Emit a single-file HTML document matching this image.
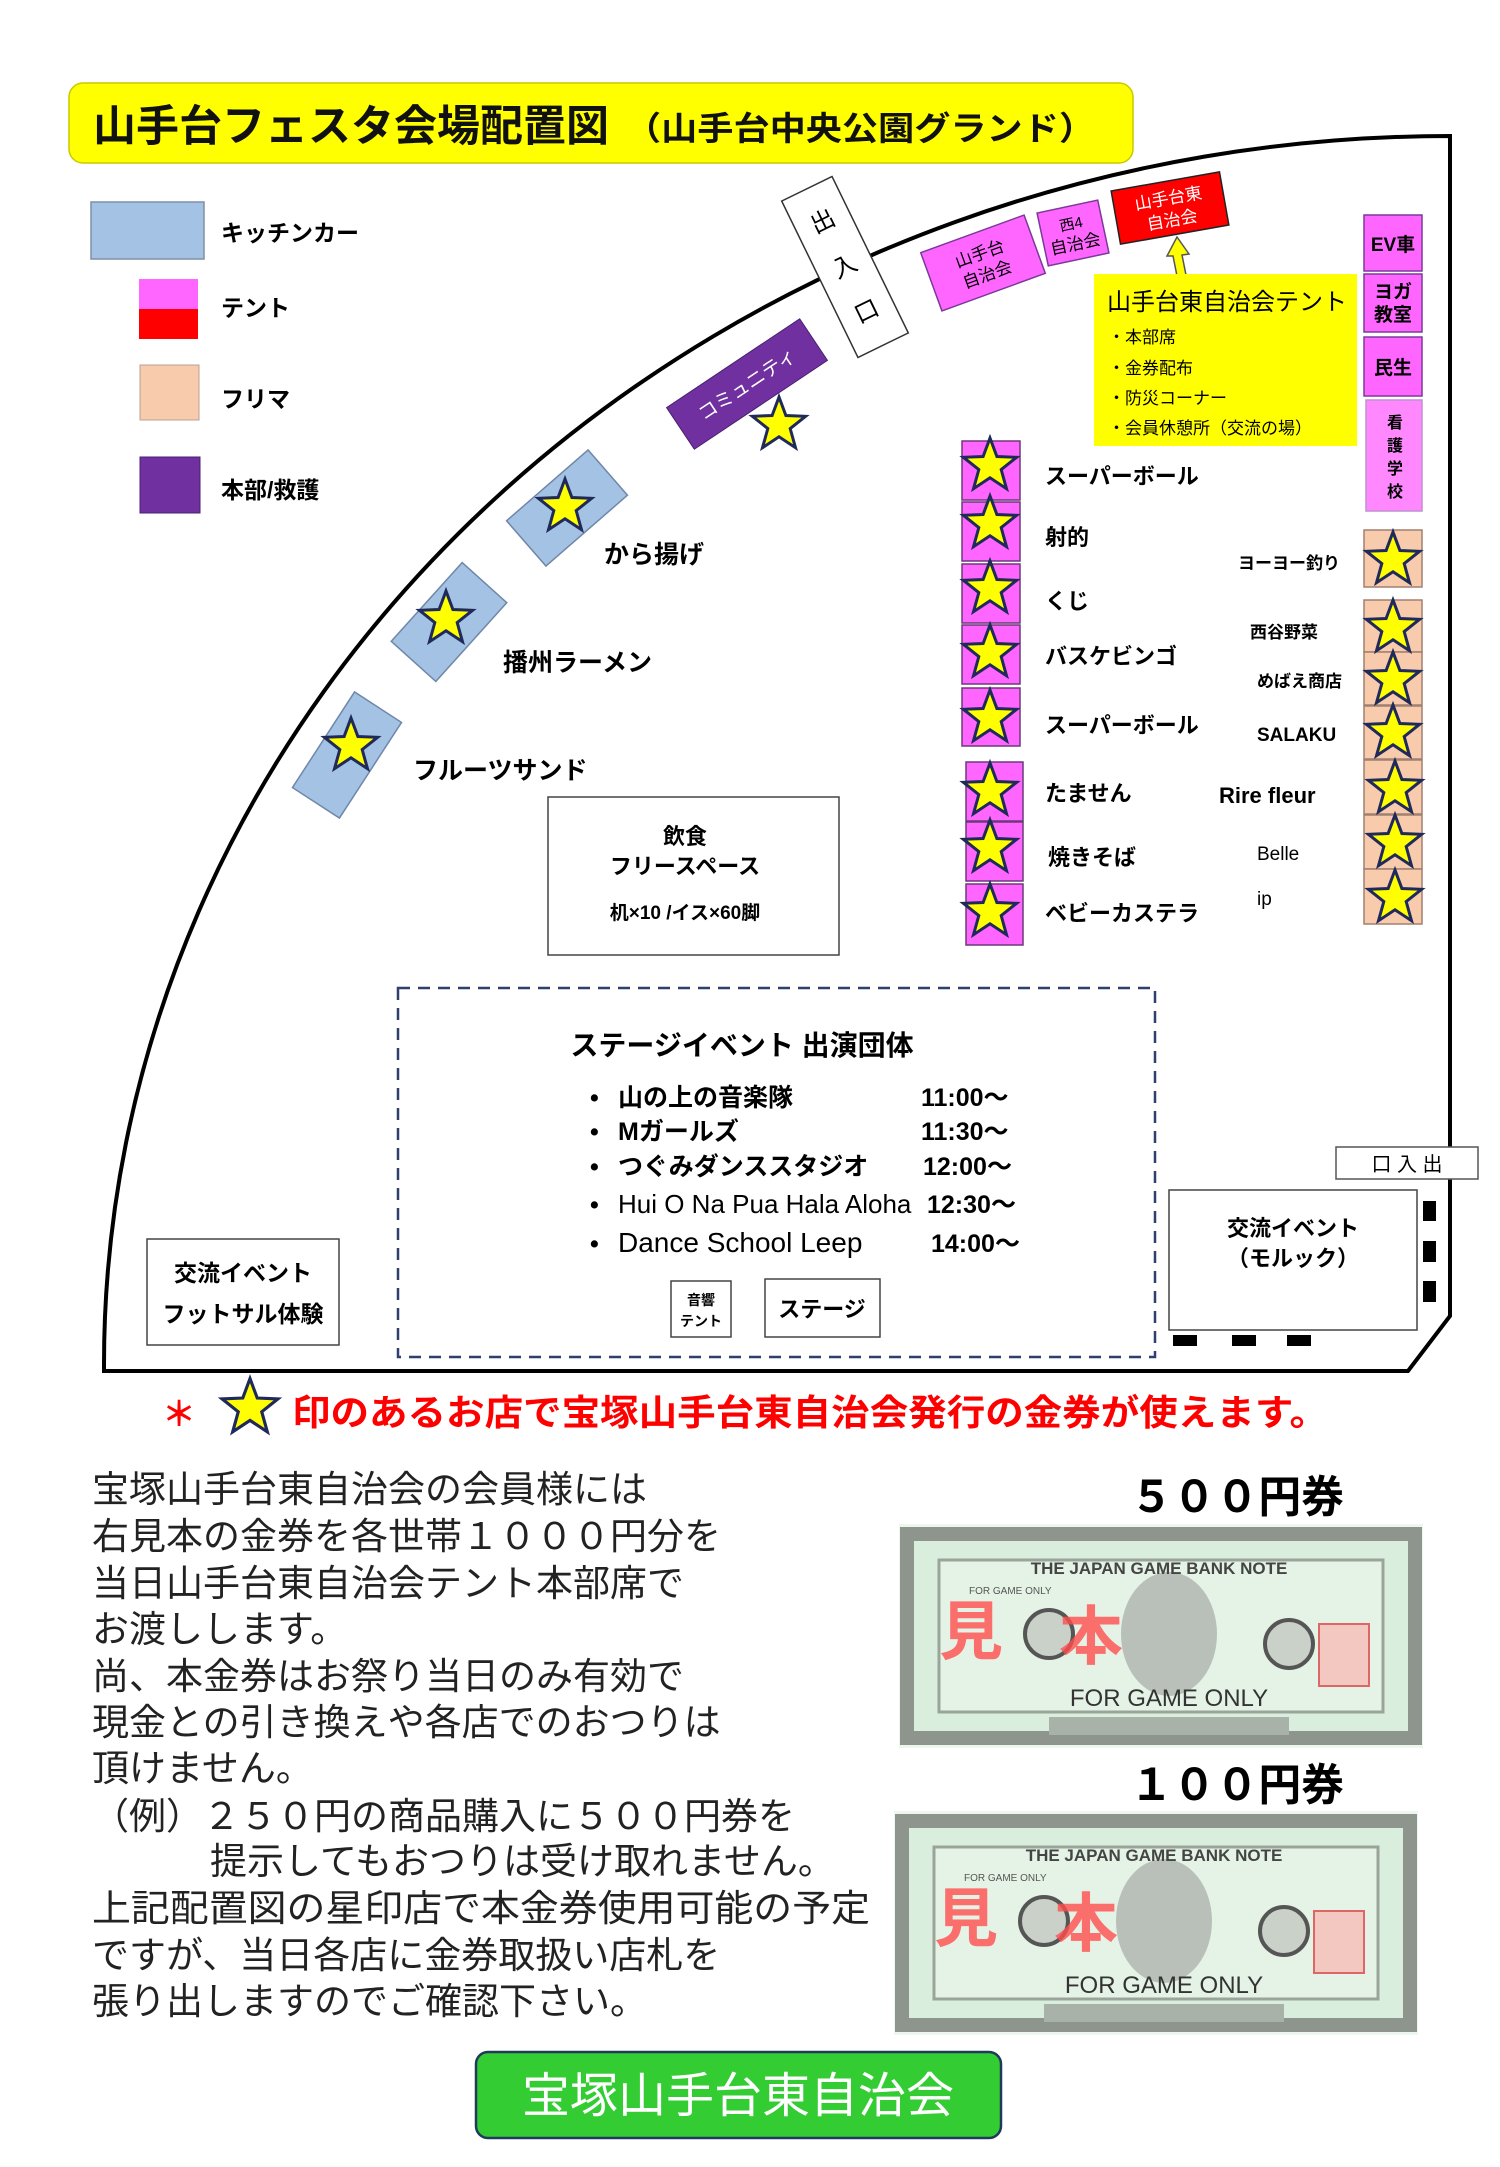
<!DOCTYPE html>
<html><head><meta charset="utf-8"><style>
html,body{margin:0;padding:0;background:#fff}
svg{display:block}
text{font-family:"Liberation Sans","Noto Sans CJK JP",sans-serif}
.b{font-weight:bold}
</style></head><body>
<svg width="1500" height="2167" viewBox="0 0 1500 2167" xmlns="http://www.w3.org/2000/svg">
<defs>
<polygon id="st" points="0,-28 6.9,-9.5 26.6,-8.7 11.2,3.6 16.5,22.7 0,11.8 -16.5,22.7 -11.2,3.6 -26.6,-8.7 -6.9,-9.5" fill="#ffff00" stroke="#1f2a5a" stroke-width="3" stroke-linejoin="miter"/>
<g id="note">
<rect x="0" y="0" width="524" height="224" fill="#eef7ef"/>
<rect x="8" y="10" width="508" height="204" fill="#d9eedd" stroke="#8d958d" stroke-width="14"/>
<rect x="40" y="36" width="444" height="152" fill="#e4f3e6" stroke="#9aa49a" stroke-width="3"/>
<ellipse cx="270" cy="110" rx="48" ry="62" fill="#b9c0b9"/>
<circle cx="150" cy="110" r="24" fill="#c9d1c9" stroke="#555" stroke-width="4"/>
<circle cx="390" cy="120" r="24" fill="#c9d1c9" stroke="#555" stroke-width="4"/>
<text x="260" y="50" font-family="Liberation Serif,serif" font-weight="bold" font-size="17" fill="#444" text-anchor="middle">THE JAPAN GAME BANK NOTE</text>
<text x="70" y="70" font-size="10" fill="#555">FOR  GAME  ONLY</text>
<text x="270" y="182" font-size="24" fill="#333" text-anchor="middle" font-family="Liberation Sans Narrow,Liberation Sans,sans-serif">FOR GAME ONLY</text>
<rect x="150" y="193" width="240" height="18" fill="#a9b2a9"/>
<text x="40" y="130" class="b" font-size="64" fill="#ff4d4d" fill-opacity="0.8">見</text>
<text x="160" y="135" class="b" font-size="64" fill="#ff4d4d" fill-opacity="0.8">本</text>
<rect x="420" y="100" width="50" height="62" fill="#f2c8c0" stroke="#d66" stroke-width="2"/>
</g>
</defs>

<rect x="69" y="83" width="1064" height="80" rx="14" fill="#ffff00" stroke="#c9c900" stroke-width="1.5"/>
<text x="93" y="141" font-size="43" font-weight="bold" fill="#111">山手台フェスタ会場配置図</text>
<text x="625" y="140" font-size="33" font-weight="bold" fill="#111" textLength="470" lengthAdjust="spacingAndGlyphs">（山手台中央公園グランド）</text>

<path d="M104,1364 A1346 1228 0 0 1 1450 136 L1450 1316 L1408 1371 L104 1371 Z" fill="none" stroke="#000" stroke-width="4"/>

<rect x="91" y="202" width="113" height="57" fill="#a4c2e4" stroke="#7f8fa6" stroke-width="1.5"/>
<text x="221" y="241" font-size="23" font-weight="bold">キッチンカー</text>
<rect x="139" y="279" width="59" height="30" fill="#ff66ff"/>
<rect x="139" y="309" width="59" height="30" fill="#ff0000"/>
<text x="221" y="316" font-size="23" font-weight="bold">テント</text>
<rect x="140" y="365" width="59" height="55" fill="#f8cbad" stroke="#b9a090" stroke-width="1"/>
<text x="221" y="407" font-size="23" font-weight="bold">フリマ</text>
<rect x="140" y="457" width="60" height="56" fill="#7030a0" stroke="#4b2070" stroke-width="1"/>
<text x="221" y="498" font-size="23" font-weight="bold">本部/救護</text>

<g transform="translate(845,267) rotate(64)">
<rect x="-87" y="-28" width="174" height="56" fill="#fff" stroke="#333" stroke-width="1.5"/>
<text transform="translate(-50,0) rotate(-90)" font-size="24" text-anchor="middle" dominant-baseline="central">出</text>
<text transform="translate(0,0) rotate(-90)" font-size="24" text-anchor="middle" dominant-baseline="central">入</text>
<text transform="translate(50,0) rotate(-90)" font-size="24" text-anchor="middle" dominant-baseline="central">口</text>
</g>

<g transform="translate(983,263) rotate(-20)">
<rect x="-55" y="-31" width="110" height="62" fill="#ff66ff" stroke="#7a3a9a" stroke-width="1.5"/>
<text y="-4" font-size="17" text-anchor="middle">山手台</text><text y="18" font-size="17" text-anchor="middle">自治会</text>
</g>
<g transform="translate(1073,233) rotate(-12)">
<rect x="-31" y="-27" width="62" height="54" fill="#ff66ff" stroke="#7a3a9a" stroke-width="1.5"/>
<text y="-4" font-size="15" text-anchor="middle">西4</text><text y="17" font-size="17" text-anchor="middle">自治会</text>
</g>
<g transform="translate(1170,208) rotate(-10)">
<rect x="-55" y="-27" width="110" height="54" fill="#ff0000" stroke="#222" stroke-width="1.5"/>
<text y="-4" font-size="17" fill="#fff" text-anchor="middle">山手台東</text><text y="18" font-size="17" fill="#fff" text-anchor="middle">自治会</text>
</g>
<polygon points="1177,237 1167,256 1173,256 1177,276 1186,275 1182,255 1189,254" fill="#ffff00" stroke="#555" stroke-width="1.5"/>

<rect x="1094" y="274" width="263" height="172" fill="#ffff00"/>
<text x="1107" y="310" font-size="24">山手台東自治会テント</text>
<text x="1108" y="343" font-size="17">・本部席</text>
<text x="1108" y="374" font-size="17">・金券配布</text>
<text x="1108" y="404" font-size="17">・防災コーナー</text>
<text x="1108" y="434" font-size="17">・会員休憩所（交流の場）</text>

<g font-weight="bold" font-size="19" text-anchor="middle">
<rect x="1364" y="215" width="58" height="56" fill="#ff66ff" stroke="#7a3a9a" stroke-width="1.5"/>
<text x="1393" y="251">EV車</text>
<rect x="1364" y="274" width="58" height="58" fill="#ff66ff" stroke="#7a3a9a" stroke-width="1.5"/>
<text x="1393" y="298">ヨガ</text><text x="1393" y="321">教室</text>
<rect x="1364" y="337" width="58" height="59" fill="#ff66ff" stroke="#7a3a9a" stroke-width="1.5"/>
<text x="1393" y="374">民生</text>
<rect x="1366" y="400" width="56" height="111" fill="#ff88ff" stroke="#c090d0" stroke-width="1.5"/>
<text x="1395" y="428" font-size="16">看</text><text x="1395" y="451" font-size="16">護</text><text x="1395" y="474" font-size="16">学</text><text x="1395" y="497" font-size="16">校</text>
</g>
<g fill="#f8cbad" stroke="#a08070" stroke-width="1.5">
<rect x="1364" y="530" width="58" height="57"/>
<rect x="1364" y="600" width="58" height="52"/>
<rect x="1364" y="652" width="58" height="53"/>
<rect x="1364" y="706" width="58" height="53"/>
<rect x="1364" y="760" width="58" height="54"/>
<rect x="1364" y="815" width="58" height="54"/>
<rect x="1364" y="869" width="58" height="55"/>
</g>
<use href="#st" x="1393" y="560"/>
<use href="#st" x="1393" y="628"/>
<use href="#st" x="1393" y="680"/>
<use href="#st" x="1393" y="733"/>
<use href="#st" x="1395" y="789"/>
<use href="#st" x="1395" y="843"/>
<use href="#st" x="1395" y="898"/>

<g fill="#ff66ff" stroke="#6b3a7a" stroke-width="1.5">
<rect x="962" y="441" width="58" height="59"/>
<rect x="962" y="502" width="58" height="59"/>
<rect x="962" y="564" width="58" height="59"/>
<rect x="962" y="625" width="58" height="59"/>
<rect x="962" y="688" width="58" height="58"/>
<rect x="966" y="762" width="57" height="59"/>
<rect x="966" y="822" width="57" height="59"/>
<rect x="966" y="884" width="57" height="61"/>
</g>
<use href="#st" x="990" y="466"/>
<use href="#st" x="990" y="524"/>
<use href="#st" x="990" y="589"/>
<use href="#st" x="990" y="653"/>
<use href="#st" x="990" y="718"/>
<use href="#st" x="990" y="791"/>
<use href="#st" x="990" y="848"/>
<use href="#st" x="990" y="912"/>

<g font-weight="bold" font-size="22">
<text x="1045" y="484">スーパーボール</text>
<text x="1045" y="545">射的</text>
<text x="1045" y="609">くじ</text>
<text x="1045" y="664">バスケビンゴ</text>
<text x="1045" y="733">スーパーボール</text>
<text x="1045" y="801">たません</text>
<text x="1048" y="865">焼きそば</text>
<text x="1045" y="921">ベビーカステラ</text>
</g>
<g font-weight="bold" font-size="17">
<text x="1238" y="569">ヨーヨー釣り</text>
<text x="1250" y="638">西谷野菜</text>
<text x="1257" y="687">めばえ商店</text>
<text x="1257" y="741" font-size="19">SALAKU</text>
<text x="1219" y="803" font-size="22" font-family="Liberation Mono,monospace">Rire fleur</text>
<text x="1257" y="860" font-size="19" font-weight="normal">Belle</text>
<text x="1257" y="905" font-size="19" font-weight="normal">ip</text>
</g>

<g fill="#a4c2e4" stroke="#6f87a8" stroke-width="1.5">
<rect x="-54" y="-30" width="108" height="60" transform="translate(567,508) rotate(-41)"/>
<rect x="-53" y="-30" width="106" height="60" transform="translate(449,622) rotate(-48)"/>
<rect x="-57" y="-28" width="114" height="56" transform="translate(347,755) rotate(-57)"/>
</g>
<use href="#st" x="565" y="507"/>
<use href="#st" x="446" y="619"/>
<use href="#st" x="351" y="746"/>
<g font-weight="bold" font-size="25">
<text x="604" y="563">から揚げ</text>
<text x="503" y="671">播州ラーメン</text>
<text x="413" y="779">フルーツサンド</text>
</g>
<g transform="translate(747,384) rotate(-33.7)">
<rect x="-80" y="-25" width="160" height="50" fill="#7030a0" stroke="#4b2070" stroke-width="1"/>
<text y="7" font-size="19" fill="#fff" text-anchor="middle">コミュニティ</text>
</g>
<use href="#st" x="779" y="425"/>

<rect x="548" y="797" width="291" height="158" fill="#fff" stroke="#444" stroke-width="1.5"/>
<g font-weight="bold" text-anchor="middle">
<text x="685" y="844" font-size="22">飲食</text>
<text x="685" y="874" font-size="22">フリースペース</text>
<text x="685" y="919" font-size="19">机×10 /イス×60脚</text>
</g>

<rect x="398" y="988" width="757" height="369" fill="none" stroke="#2f3f6f" stroke-width="2.5" stroke-dasharray="12,8"/>
<text x="742" y="1055" font-size="28" font-weight="bold" text-anchor="middle">ステージイベント 出演団体</text>
<g font-size="25" font-weight="bold">
<text x="590" y="1106">•</text><text x="618" y="1106">山の上の音楽隊</text><text x="921" y="1106">11:00～</text>
<text x="590" y="1140">•</text><text x="618" y="1140">Mガールズ</text><text x="921" y="1140">11:30～</text>
<text x="590" y="1175">•</text><text x="618" y="1175">つぐみダンススタジオ</text><text x="923" y="1175">12:00～</text>
<text x="590" y="1213">•</text><text x="618" y="1213" font-weight="normal" font-size="26" textLength="655" lengthAdjust="spacingAndGlyphs" style="display:none"></text><text x="618" y="1213" font-weight="normal" font-size="26" textLength="655" lengthAdjust="spacingAndGlyphs"></text><text x="618" y="1213" font-weight="normal" font-size="26" textLength="656" lengthAdjust="spacingAndGlyphs"></text><text x="618" y="1213" font-weight="normal" font-size="26">Hui O Na Pua Hala Aloha</text><text x="927" y="1213">12:30～</text>
<text x="590" y="1252">•</text><text x="618" y="1252" font-weight="normal" font-size="28">Dance School Leep</text><text x="931" y="1252">14:00～</text>
</g>
<rect x="671" y="1281" width="60" height="56" fill="#fff" stroke="#444" stroke-width="1.5"/>
<text x="701" y="1305" font-size="14" font-weight="bold" text-anchor="middle">音響</text>
<text x="701" y="1326" font-size="14" font-weight="bold" text-anchor="middle">テント</text>
<rect x="765" y="1279" width="115" height="58" fill="#fff" stroke="#444" stroke-width="1.5"/>
<text x="822" y="1317" font-size="22" font-weight="bold" text-anchor="middle">ステージ</text>

<rect x="147" y="1239" width="192" height="106" fill="#fff" stroke="#444" stroke-width="1.5"/>
<text x="243" y="1281" font-size="23" font-weight="bold" text-anchor="middle">交流イベント</text>
<text x="243" y="1322" font-size="23" font-weight="bold" text-anchor="middle">フットサル体験</text>

<rect x="1336" y="1147" width="142" height="32" fill="#fff" stroke="#555" stroke-width="1.5"/>
<text x="1407" y="1171" font-size="20" text-anchor="middle">口 入 出</text>
<rect x="1169" y="1190" width="248" height="140" fill="#fff" stroke="#444" stroke-width="1.5"/>
<text x="1293" y="1236" font-size="22" font-weight="bold" text-anchor="middle">交流イベント</text>
<text x="1293" y="1266" font-size="22" font-weight="bold" text-anchor="middle">（モルック）</text>
<g fill="#000">
<rect x="1423" y="1201" width="13" height="20"/>
<rect x="1423" y="1241" width="13" height="21"/>
<rect x="1423" y="1281" width="13" height="21"/>
<rect x="1173" y="1335" width="24" height="11"/>
<rect x="1232" y="1335" width="24" height="11"/>
<rect x="1287" y="1335" width="24" height="11"/>
</g>

<text x="162" y="1426" font-size="34" font-weight="bold" fill="#ff0000">＊</text>
<use href="#st" transform="translate(250,1408) scale(1.05)"/>
<text x="292" y="1425" font-size="36" font-weight="bold" fill="#ff0000" textLength="1036" lengthAdjust="spacingAndGlyphs">印のあるお店で宝塚山手台東自治会発行の金券が使えます。</text>

<g font-size="37" fill="#222">
<text x="92" y="1502">宝塚山手台東自治会の会員様には</text>
<text x="92" y="1549">右見本の金券を各世帯１０００円分を</text>
<text x="92" y="1596">当日山手台東自治会テント本部席で</text>
<text x="92" y="1642">お渡しします。</text>
<text x="92" y="1689">尚、本金券はお祭り当日のみ有効で</text>
<text x="92" y="1735">現金との引き換えや各店でのおつりは</text>
<text x="92" y="1781">頂けません。</text>
<text x="92" y="1829">（例）２５０円の商品購入に５００円券を</text>
<text x="210" y="1874">提示してもおつりは受け取れません。</text>
<text x="92" y="1921" textLength="778" lengthAdjust="spacingAndGlyphs">上記配置図の星印店で本金券使用可能の予定</text>
<text x="92" y="1968">ですが、当日各店に金券取扱い店札を</text>
<text x="92" y="2014">張り出しますのでご確認下さい。</text>
</g>

<text x="1130" y="1512" font-size="44" font-weight="bold" textLength="214" lengthAdjust="spacingAndGlyphs">５００円券</text>
<use href="#note" x="899" y="1524"/>
<text x="1130" y="1800" font-size="44" font-weight="bold" textLength="214" lengthAdjust="spacingAndGlyphs">１００円券</text>
<use href="#note" x="894" y="1811"/>

<rect x="476" y="2052" width="525" height="86" rx="12" fill="#33cc33" stroke="#1f3a5a" stroke-width="2.5"/>
<text x="738" y="2112" font-size="48" fill="#fff" text-anchor="middle">宝塚山手台東自治会</text>
</svg>
</body></html>
